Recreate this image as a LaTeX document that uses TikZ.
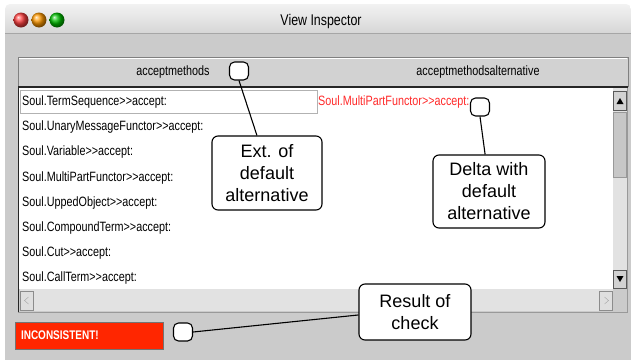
\documentclass[tikz,border=0pt]{standalone}
\usepackage{fontspec}
\setmainfont{Liberation Sans}
\newfontfamily\uifont[FakeStretch=0.8]{Liberation Sans}
\usepackage{tikz}
\definecolor{wingray}{HTML}{CBCBCB}
\definecolor{bargray}{HTML}{D2D2D2}
\definecolor{trackgray}{HTML}{E2E2E2}
\definecolor{alertred}{HTML}{FF2600}
\definecolor{deltared}{HTML}{FF2B2B}
\tikzset{
	callout/.style={draw=black,line width=1.1pt,fill=white,rounded corners=6pt,align=center,inner sep=0pt,font=\fontsize{18}{22}\selectfont},
	marker/.style={draw=black,line width=1.1pt,fill=white,rounded corners=5pt,minimum width=19pt,minimum height=18pt,inner sep=0pt},
	listitem/.style={anchor=west,inner sep=0pt,font=\uifont\fontsize{13.5}{14}\selectfont},
	scrollbtn/.style={fill=bargray,draw=black!65},
}

\begin{document}
\begin{tikzpicture}[x=1pt,y=-1pt]
	\useasboundingbox (0,0) rectangle (631,362);
	\fill[white] (0,0) rectangle (631,362);
	\fill[wingray] (5,33) rectangle (631,360);
	\shade[top color=black!5,bottom color=black!16] (5,33) [rounded corners=5pt]-- (5,4) -- (631,4) [sharp corners]-- (631,33) -- cycle;
	\draw[black!35] (5,33) -- (631,33);
	\foreach \c/\x in {red!75!white/21,orange!80!yellow/39,green!75!black/57}
		\shade[ball color=\c] (\x,20) circle (7.5);
	\node[font=\uifont\fontsize{15.5}{16}\selectfont] (title) at (321,21) {View Inspector};
%	header
	\draw[fill=bargray,draw=black!50] (18,57) rectangle (628,86);
	\draw[white] (19,58) -- (627,58);
	\node[listitem,anchor=center] (colA) at (173,72) {acceptmethods};
	\node[listitem,anchor=center] (colB) at (478,72) {acceptmethodsalternative};
%	list
	\fill[white] (19,87) rectangle (613,289);
	\draw[black!40] (18.5,86) rectangle (627.5,312);
	\fill[wingray] (613,289) rectangle (627,311.5);
	\draw[black!85,line width=2pt] (18,86.5) -- (628,86.5);
	\draw[black!85] (18.5,86) -- (18.5,312);
	\draw[black!30,fill=white] (20,90.5) rectangle (317,113);
	\foreach \t [count=\i] in {TermSequence,UnaryMessageFunctor,Variable,MultiPartFunctor,UppedObject,CompoundTerm,Cut,CallTerm}
		\node[listitem] (item\i) at (22,{76.8+25.2*\i}) {Soul.\t>{}>accept:};
	\node[listitem,text=deltared] (delta) at (318,102) {Soul.MultiPartFunctor>{}>accept:};
%	scrollbars
	\fill[trackgray] (613,88) rectangle (627,289);
	\draw[scrollbtn] (613.5,91) rectangle (626.5,110);
	\fill (616.5,104) -- (623.5,104) -- (620,98) -- cycle;
	\draw[fill=black!22,draw=black!40] (613.5,112) rectangle (626.5,177);
	\draw[scrollbtn] (613.5,270) rectangle (626.5,288);
	\fill (616.5,276) -- (623.5,276) -- (620,282) -- cycle;
	\fill[trackgray] (19.5,289) rectangle (613,311);
	\draw[fill=bargray!70!white,draw=black!45] (20.5,291) rectangle (33,310);
	\draw[black!35] (28.5,297) -- (24.5,300.5) -- (28.5,304);
	\draw[fill=bargray!70!white,draw=black!45] (599.5,291) rectangle (612.5,310);
	\draw[black!35] (604.5,297) -- (608.5,300.5) -- (604.5,304);
%	status
	\node[fill=alertred,draw=black!55,line width=1pt,text width=136pt,inner xsep=6pt,minimum height=27pt,align=left,text=white,font=\uifont\bfseries\fontsize{12.5}{13}\selectfont] (status) at (89,335.5) {INCONSISTENT!};
%	callouts
	\node[marker] (mkA) at (239,71) {};
	\node[marker] (mkB) at (480,107) {};
	\node[marker] (mkC) at (183,332) {};
	\node[callout,minimum width=110pt,minimum height=74pt] (extnote) at (267,173) {Ext. of\\default\\alternative};
	\node[callout,minimum width=112pt,minimum height=73pt] (deltanote) at (489,191.5) {Delta with\\default\\alternative};
	\node[callout,minimum width=112pt,minimum height=56pt] (checknote) at (415,312) {Result of\\check};
	\draw[line width=1.1pt] (mkA.south) -- (extnote.105);
	\draw[line width=1.1pt] (mkB.south) -- (deltanote.96);
	\draw[line width=1.1pt] (mkC.east) -- (checknote.183);
\end{tikzpicture}
\end{document}
